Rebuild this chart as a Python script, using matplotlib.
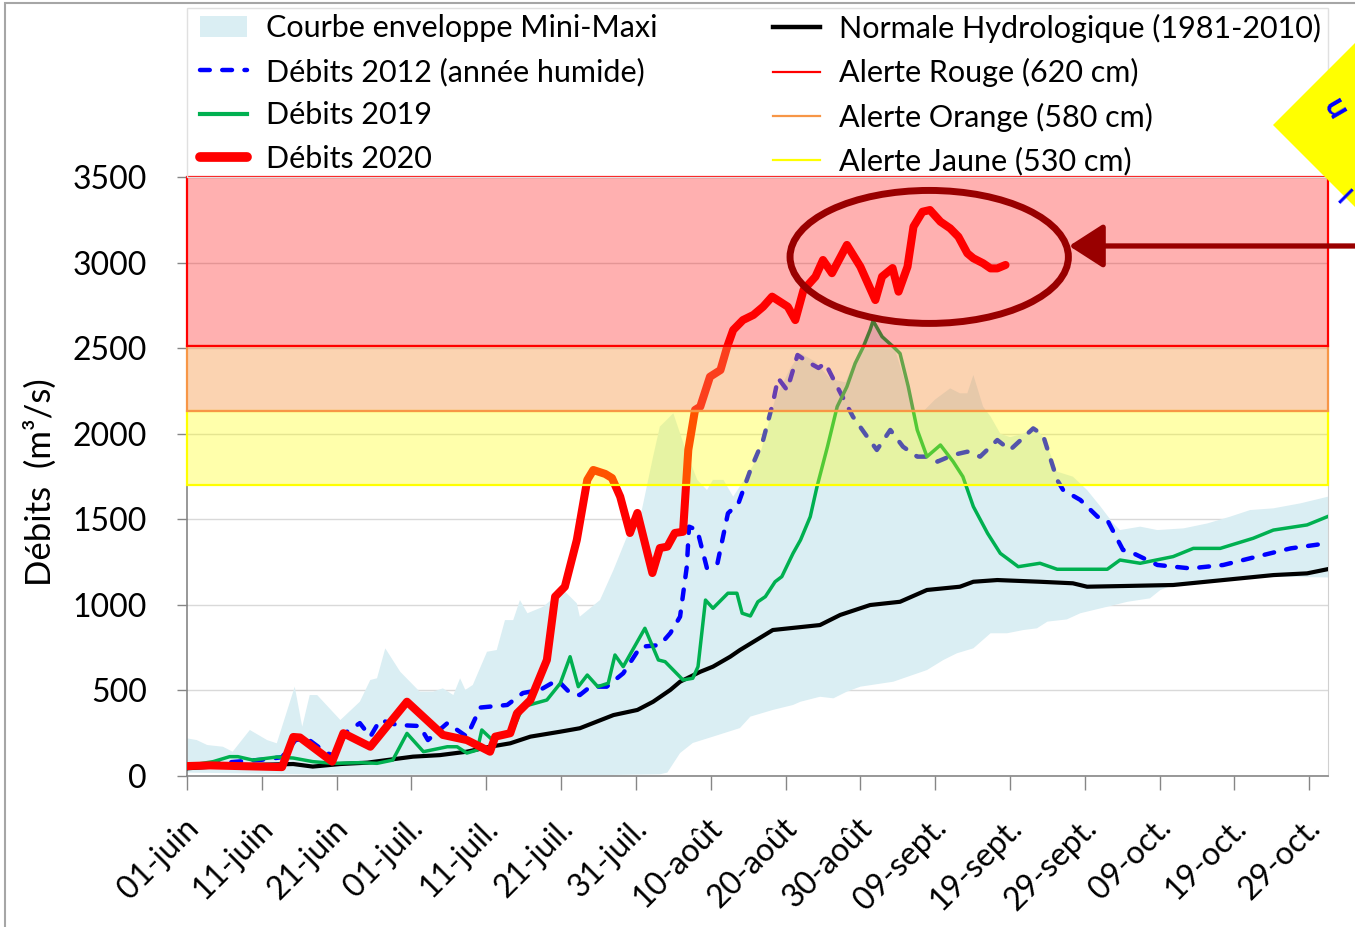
import matplotlib
matplotlib.use("Agg")
import matplotlib.pyplot as plt
import matplotlib.transforms as mtransforms
from matplotlib.patches import Rectangle, Ellipse, Polygon, Patch
from matplotlib.lines import Line2D
import numpy as np

plt.rcParams['font.family'] = ['Lato', 'DejaVu Sans']

# ---------------- data (day index: 0 = 01-juin) ----------------
tick_days = list(range(0, 151, 10))
tick_labels = ['01-juin', '11-juin', '21-juin', '01-juil.', '11-juil.', '21-juil.',
               '31-juil.', '10-août', '20-août', '30-août', '09-sept.', '19-sept.',
               '29-sept.', '09-oct.', '19-oct.', '29-oct.']

# Débits 2020
d2020_days = [0, 3.1, 9.8, 12.7, 14.2, 15.1, 19.4, 20.9, 24.5, 29.4, 34.2, 37.4, 39.2, 40.5,
              41.2, 43.2, 44.1, 45.9, 48.1, 49.2, 50.5, 52.1, 53.5, 54.3, 55.9, 56.8, 57.9,
              59.2, 60.2, 62.2, 63.2, 64.2, 65.2, 66.3, 67.0, 67.9, 68.6, 69.9, 71.3, 72.2,
              73.0, 74.3, 75.7, 77.0, 78.2, 80.3, 81.3, 82.4, 84.0, 85.0, 86.2, 88.2, 90.0,
              92.0, 92.9, 94.3, 95.1, 96.3, 97.1, 98.3, 99.3, 100.7, 102.0, 103.1, 104.3,
              105.1, 106.4, 107.4, 108.3, 109.4]
d2020_vals = [58, 62, 55, 52, 228, 225, 84, 250, 171, 434, 240, 210, 171, 142,
              230, 250, 366, 444, 678, 1048, 1106, 1379, 1730, 1788, 1765, 1741, 1632,
              1420, 1537, 1186, 1332, 1340, 1420, 1427, 1905, 2139, 2158, 2333, 2372, 2508,
              2606, 2664, 2694, 2742, 2801, 2742, 2664, 2840, 2918, 3015, 2938, 3103, 2976,
              2781, 2918, 2968, 2830, 2976, 3210, 3297, 3307, 3239, 3200, 3151, 3054,
              3025, 2996, 2966, 2966, 2986]

# Débits 2012 (année humide)
d2012_days = [0, 3, 6.7, 10, 12.7, 14.5, 16.0, 18.7, 19.5, 21.4, 23.1, 24.5, 25.8, 28.1, 31.1,
              32.2, 34.8, 37.4, 39.2, 42.8, 44.9, 47.2, 49.5, 51.2, 52.5, 53.9, 56.1, 58.3,
              60.6, 63.2, 64.6, 65.9, 66.8, 67.1, 68.2, 69.5, 70.9, 72.3, 73.7, 75.3, 77.0,
              78.3, 79.0, 80.2, 81.6, 82.9, 84.4, 85.3, 86.9, 89.0, 90.9, 92.2, 94.0, 95.7,
              97.6, 98.9, 100.3, 102.4, 104.3, 106.0, 108.3, 110.0, 113.1, 114.4, 116.3,
              117.1, 119.4, 121.7, 123.0, 125.1, 126.5, 129.7, 134.1, 138.5, 143.0, 147.5,
              152.4]
d2012_vals = [60, 70, 84, 95, 110, 210, 221, 133, 122, 259, 309, 230, 327, 298, 292,
              210, 309, 230, 400, 415, 485, 503, 561, 485, 473, 522, 522, 600,
              755, 765, 835, 931, 1223, 1457, 1437, 1213, 1243, 1535, 1593, 1788, 1963,
              2178, 2325, 2255, 2460, 2421, 2384, 2413, 2275, 2100, 1983, 1905, 2022, 1924,
              1866, 1866, 1837, 1876, 1895, 1866, 1963, 1905, 2031, 1993, 1730,
              1671, 1613, 1515, 1496, 1321, 1301, 1233, 1213, 1233, 1282, 1330,
              1360]

# Débits 2019
d2019_days = [0, 3.5, 5.7, 6.8, 8.8, 12.0, 14.2, 16.8, 19.5, 23.1, 25.4, 27.5, 29.4, 31.6,
              34.8, 36.1, 37.4, 38.8, 39.4, 40.7, 43.4, 44.9, 48.1, 49.9, 51.2, 52.3, 53.5,
              54.9, 56.3, 57.2, 58.3, 61.2, 63.0, 63.9, 66.3, 67.6, 68.3, 69.3, 70.3, 72.3,
              73.5, 74.2, 75.3, 76.3, 77.3, 78.6, 79.5, 81.0, 82.0, 83.3, 84.2, 85.6, 86.9,
              88.2, 89.3, 90.4, 91.3, 91.7, 92.9, 94.4, 95.3, 96.4, 97.6, 98.9, 100.7, 102.4,
              103.7, 105.1, 107.0, 108.7, 109.6, 111.1, 114.0, 116.3, 123.0, 124.7, 127.4,
              131.8, 134.5, 138.1, 142.5, 145.2, 149.7, 152.4]
d2019_vals = [60, 84, 113, 113, 93, 111, 105, 84, 74, 78, 74, 93, 249, 142,
              171, 171, 134, 152, 269, 215, 255, 405, 444, 542, 697, 522, 590,
              522, 542, 707, 639, 863, 678, 668, 561, 571, 639, 1028, 980, 1068,
              1068, 951, 935, 1018, 1048, 1135, 1165, 1301, 1379, 1515, 1690, 1924, 2158,
              2275, 2411, 2508, 2606, 2660, 2567, 2508, 2469, 2275, 2022, 1866, 1934, 1837,
              1749, 1574, 1418, 1301, 1272, 1223, 1243, 1208, 1208, 1262, 1243,
              1282, 1330, 1330, 1389, 1437, 1467, 1515]

# Normale hydrologique (1981-2010)
norm_days = [0, 3.5, 8.0, 14.2, 16.8, 20.5, 24.1, 26.7, 30.2, 33.8, 37.4, 40.5, 43.2, 45.9,
             49.9, 52.5, 57.0, 60.2, 62.3, 64.6, 65.9, 68.6, 70.3, 72.6, 73.9, 78.3, 84.6,
             87.3, 91.3, 95.3, 98.9, 103.3, 105.1, 108.3, 114.0, 118.4, 120.3, 125.1, 131.8,
             138.5, 145.2, 149.7, 152.4]
norm_vals = [45, 55, 64, 70, 55, 70, 78, 93, 113, 122, 142, 171, 191, 230,
             259, 279, 356, 386, 434, 503, 551, 609, 639, 697, 736, 853, 882,
             941, 999, 1018, 1087, 1106, 1135, 1145, 1135, 1126, 1106, 1110, 1116,
             1145, 1174, 1184, 1208]

# Courbe enveloppe Mini-Maxi
env_max_days = [0, 1.3, 2.7, 4.8, 6.1, 8.4, 10.7, 12.0, 14.4, 15.4, 16.4, 17.4, 20.5, 23.1,
                24.5, 25.4, 26.5, 28.5, 31.1, 32.9, 34.2, 35.6, 36.5, 37.2, 38.2, 40.1, 41.4,
                42.5, 43.6, 44.5, 45.5, 47.6, 50.3, 52.1, 52.5, 55.2, 57.0, 58.8, 60.6, 62.3,
                63.2, 65.0, 66.8, 68.2, 69.5, 70.3, 71.7, 73.0, 74.3, 76.6, 78.6, 80.6, 82.0,
                84.0, 86.0, 88.0, 90.0, 91.7, 93.3, 94.7, 96.0, 97.3, 98.4, 100.0, 102.0,
                103.3, 104.3, 105.1, 106.4, 107.4, 108.7, 110.0, 111.8, 113.4, 114.7, 116.3,
                118.4, 120.3, 122.1, 123.8, 124.7, 127.4, 129.7, 133.2, 136.4, 139.4, 142.1,
                145.2, 148.8, 152.5]
env_max_vals = [220, 210, 181, 171, 142, 269, 210, 191, 522, 288, 473, 473, 327, 434,
                561, 571, 746, 609, 493, 493, 512, 473, 571, 503, 532, 726, 736,
                911, 911, 1028, 951, 989, 1087, 1009, 931, 1028, 1204, 1398, 1515, 1866,
                2041, 2119, 1885, 1730, 1671, 1730, 1730, 1632, 1720, 1880, 2200, 2380, 2470,
                2420, 2320, 2300, 2500, 2670, 2560, 2480, 2300, 2130, 2130, 2200, 2265,
                2236, 2236, 2343, 2158, 2100, 2000, 1980, 2000, 2040, 1960, 1778,
                1749, 1671, 1574, 1476, 1437, 1457, 1437, 1447, 1476, 1515, 1554,
                1564, 1593, 1632]
env_min_days = [0, 15.1, 28.5, 42.2, 55.2, 63.2, 64.2, 65.9, 67.6, 70.3, 73.9, 75.3, 78.3,
                81.0, 82.0, 84.6, 86.4, 88.2, 90.0, 94.4, 98.9, 101.1, 102.9, 105.1, 107.4,
                109.6, 111.8, 113.6, 115.0, 117.6, 119.4, 123.0, 125.7, 128.7, 130.1, 131.8,
                136.4, 140.8, 145.2, 152.5]
env_min_vals = [20, 10, 8, 5, 5, 10, 20, 134, 193, 230, 280, 347, 386,
                415, 434, 463, 454, 493, 522, 551, 619, 678, 717, 746, 834,
                834, 853, 863, 902, 915, 951, 989, 1018, 1038, 1087, 1116,
                1145, 1165, 1165, 1160]

# Seuils d'alerte (bandes de débit)
alert_names = ['Alerte Jaune (530 cm)', 'Alerte Orange (580 cm)', 'Alerte Rouge (620 cm)']
alert_low = [1700, 2130, 2510]
alert_high = [2130, 2510, 3500]
alert_colors = ['#FFFF00', '#F79646', '#FF0000']
alert_alpha = [0.33, 0.42, 0.31]

# ---------------- figure ----------------
W, H = 1355, 927
fig = plt.figure(figsize=(W / 100, H / 100), dpi=100)


def fx(px):
    return px / W


def fy(py):
    return 1 - py / H


ax = fig.add_axes([fx(187), fy(776), fx(1328) - fx(187), fy(177) - fy(776)])
ax.set_xlim(0, 152.5)
ax.set_ylim(0, 3500)

# envelope
env_x = list(env_max_days) + list(env_min_days[::-1])
env_y = list(env_max_vals) + list(env_min_vals[::-1])
ax.fill(env_x, env_y, facecolor='#DAEEF3', edgecolor='none', zorder=1)

# lines
ax.plot(norm_days, norm_vals, color='black', lw=3.0, zorder=3, solid_joinstyle='round')
ax.plot(d2012_days, d2012_vals, color='#0000FF', lw=3.2, zorder=3.2,
        dashes=(2.2, 2.8), dash_capstyle='round', dash_joinstyle='round')
ax.plot(d2019_days, d2019_vals, color='#00B050', lw=2.5, zorder=3.4, solid_joinstyle='round')
ax.plot(d2020_days, d2020_vals, color='#FF0000', lw=5.8, zorder=3.6,
        solid_joinstyle='round', solid_capstyle='round')

# alert bands (semi-transparent, over the lines)
for lo, hi, c, a in zip(alert_low, alert_high, alert_colors, alert_alpha):
    ax.axhspan(lo, hi, facecolor=matplotlib.colors.to_rgba(c, a), edgecolor=c,
               lw=1.6, zorder=5, clip_on=False)

# gridlines / axes
ax.set_axisbelow(True)
ax.yaxis.grid(True, color='#D9D9D9', lw=1)
ax.set_yticks(range(0, 3501, 500))
ax.set_xticks(tick_days)
ax.set_xticklabels(tick_labels, rotation=45, ha='right', va='center',
                   rotation_mode='anchor')
ax.tick_params(axis='y', labelsize=23, length=7, width=1, color='#868686', pad=22)
ax.tick_params(axis='x', labelsize=23, length=10, width=1, color='#868686', pad=14)
offset = mtransforms.ScaledTranslation(7 / 100, -14 / 100, fig.dpi_scale_trans)
for lab in ax.get_xticklabels():
    lab.set_transform(lab.get_transform() + offset)
for s in ['left', 'bottom']:
    ax.spines[s].set_color('#868686')
    ax.spines[s].set_linewidth(1.2)
ax.spines['right'].set_color('#D0D0D0')
ax.spines['top'].set_visible(False)

ax.set_ylabel('Débits  (m³/s)', fontsize=25)
ax.yaxis.set_label_coords(-0.114, 0.49)

# annotation: ellipse + arrow
ax.add_patch(Ellipse((99.2, 3033), width=37.2, height=777, fill=False,
                     edgecolor='#990000', lw=5, zorder=8, clip_on=False))
ax.annotate('', xy=(117.9, 3097), xycoords='data', xytext=(1.01, fy(246)),
            textcoords='figure fraction',
            arrowprops=dict(arrowstyle='-|>,head_length=0.7,head_width=0.45',
                            color='#990000', lw=3.8, mutation_scale=30,
                            shrinkA=0, shrinkB=0),
            annotation_clip=False, zorder=8)

# yellow diamond in corner (cropped)
fig.patches.append(Polygon([(fx(1273), fy(125)), (fx(1370), fy(28)), (fx(1467), fy(125)),
                            (fx(1370), fy(222))], closed=True, facecolor='#FFFF00',
                           edgecolor='none', transform=fig.transFigure, zorder=2))
fig.text(fx(1352), fy(108), 'u', rotation=-60, color='#0000FF', fontsize=24,
         fontweight='bold', ha='right', va='center', zorder=3)
fig.text(fx(1353), fy(198), 'l', rotation=-45, color='#0000FF', fontsize=18,
         fontweight='bold', ha='right', va='center', zorder=3)

# outer frame and legend box
fig.patches.append(Rectangle((fx(5), fy(940)), fx(1400), fy(3) - fy(940), fill=False,
                             edgecolor='#A6A6A6', lw=1.5, transform=fig.transFigure))
fig.patches.append(Rectangle((fx(187), fy(177)), fx(1328) - fx(187), fy(8) - fy(177),
                             fill=False, edgecolor='#E0E0E0', lw=1,
                             transform=fig.transFigure))

# legends
h1 = [Patch(facecolor='#DAEEF3', edgecolor='none'),
      Line2D([], [], color='#0000FF', lw=3.2, dashes=(2.2, 2.8), dash_capstyle='round'),
      Line2D([], [], color='#00B050', lw=3.0),
      Line2D([], [], color='#FF0000', lw=7, solid_capstyle='round')]
l1 = ['Courbe enveloppe Mini-Maxi', 'Débits 2012 (année humide)', 'Débits 2019', 'Débits 2020']
h2 = [Line2D([], [], color='black', lw=3.2)] + \
     [Line2D([], [], color=c, lw=1.6) for c in alert_colors[::-1]]
l2 = ['Normale Hydrologique (1981-2010)'] + alert_names[::-1]

common = dict(loc='upper left', frameon=False, fontsize=22, handlelength=1.55,
              handletextpad=0.6, labelspacing=0.5, borderpad=0, borderaxespad=0)
fig.legend(h1, l1, bbox_to_anchor=(fx(200), fy(14)), **common)
fig.legend(h2, l2, bbox_to_anchor=(fx(773), fy(14)), **common)

fig.savefig('out.png', dpi=100)
